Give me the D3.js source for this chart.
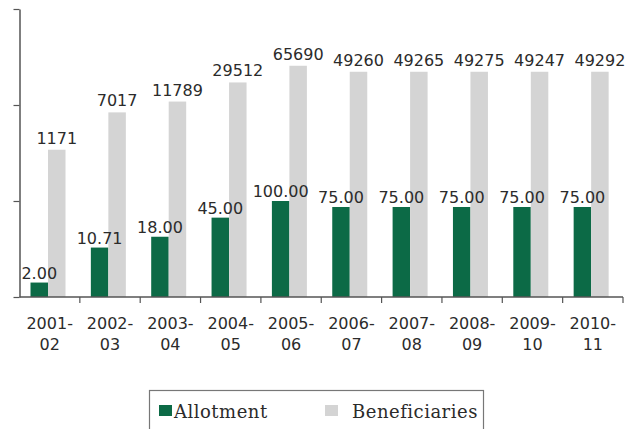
<!DOCTYPE html>
<html>
<head>
<meta charset="utf-8">
<script src="https://cdn.jsdelivr.net/npm/d3@7"></script>
<style>
  html, body { margin: 0; padding: 0; background: #fff; }
  svg { display: block; }
</style>
</head>
<body>
<svg id="chart" width="629" height="429"></svg>
<script>
// Scheme allotment and number of beneficiaries by year
const yearTop = ["2001-", "2002-", "2003-", "2004-", "2005-", "2006-", "2007-", "2008-", "2009-", "2010-"];
const yearBottom = ["02", "03", "04", "05", "06", "07", "08", "09", "10", "11"];
const allotment = [2.00, 10.71, 18.00, 45.00, 100.00, 75.00, 75.00, 75.00, 75.00, 75.00];
const allotmentLabels = ["2.00", "10.71", "18.00", "45.00", "100.00", "75.00", "75.00", "75.00", "75.00", "75.00"];
const beneficiaries = [1171, 7017, 11789, 29512, 65690, 49260, 49265, 49275, 49247, 49292];
const seriesNames = ["Allotment", "Beneficiaries"];
const seriesColors = ["#0c6a46", "#d4d4d4"];
const yTicks = [1, 1e2, 1e4, 1e6];

const svg = d3.select("#chart");
const years = yearTop.map((t, i) => t + yearBottom[i]);

const x = d3.scaleBand().domain(years).range([19.5, 623]).padding(0);
const inner = d3.scaleBand().domain(seriesNames).range([11, 46]).padding(0);
const y = d3.scaleLog().domain([1, 1e6]).range([297, 9]);

const numFont = "'DejaVu Sans', Verdana, sans-serif";

// Bars
const groups = svg.append("g").selectAll("g")
  .data(years)
  .join("g")
  .attr("transform", d => `translate(${x(d)},0)`);

groups.append("rect")
  .attr("x", inner("Allotment"))
  .attr("width", inner.bandwidth())
  .attr("y", (d, i) => y(allotment[i]))
  .attr("height", (d, i) => y(1) - y(allotment[i]))
  .attr("fill", seriesColors[0]);

groups.append("rect")
  .attr("x", inner("Beneficiaries"))
  .attr("width", inner.bandwidth())
  .attr("y", (d, i) => y(beneficiaries[i]))
  .attr("height", (d, i) => y(1) - y(beneficiaries[i]))
  .attr("fill", seriesColors[1]);

// Value labels
groups.append("text")
  .attr("x", inner("Allotment") + inner.bandwidth() / 2)
  .attr("y", (d, i) => y(allotment[i]) - 4)
  .attr("text-anchor", "middle")
  .attr("font-family", numFont)
  .attr("font-size", 16)
  .attr("fill", "#2b2b2b")
  .text((d, i) => allotmentLabels[i]);

groups.append("text")
  .attr("x", inner("Beneficiaries") + inner.bandwidth() / 2)
  .attr("y", (d, i) => y(beneficiaries[i]) - 6)
  .attr("text-anchor", "middle")
  .attr("font-family", numFont)
  .attr("font-size", 16)
  .attr("fill", "#2b2b2b")
  .text((d, i) => beneficiaries[i]);

// Y axis (log scale, unlabeled ticks)
const yAxis = svg.append("g")
  .attr("transform", `translate(${x.range()[0]},0)`)
  .call(d3.axisLeft(y).tickValues(yTicks).tickFormat("").tickSize(6).tickSizeOuter(0));
yAxis.select(".domain").attr("stroke", "#555").attr("stroke-width", 1.5);
yAxis.selectAll(".tick line").attr("stroke", "#555").attr("stroke-width", 1.2);

// X axis baseline with boundary ticks
const xAxis = svg.append("g");
xAxis.append("line")
  .attr("x1", x.range()[0]).attr("x2", x.range()[1])
  .attr("y1", y(1)).attr("y2", y(1))
  .attr("stroke", "#555").attr("stroke-width", 1.5);
xAxis.selectAll("line.bt")
  .data(years)
  .join("line")
  .attr("class", "bt")
  .attr("x1", d => x(d) + x.bandwidth())
  .attr("x2", d => x(d) + x.bandwidth())
  .attr("y1", y(1)).attr("y2", y(1) + 6)
  .attr("stroke", "#555").attr("stroke-width", 1.2);

// Category labels on two lines
const cat = xAxis.selectAll("text.cat")
  .data(years)
  .join("text")
  .attr("class", "cat")
  .attr("x", d => x(d) + x.bandwidth() / 2)
  .attr("text-anchor", "middle")
  .attr("font-family", numFont)
  .attr("font-size", 16)
  .attr("fill", "#2b2b2b");
cat.append("tspan").attr("x", d => x(d) + x.bandwidth() / 2).attr("y", 329).text((d, i) => yearTop[i]);
cat.append("tspan").attr("x", d => x(d) + x.bandwidth() / 2).attr("y", 350).text((d, i) => yearBottom[i]);

// Legend
const legend = svg.append("g");
legend.append("rect")
  .attr("x", 149.5).attr("y", 390.5)
  .attr("width", 334).attr("height", 50)
  .attr("fill", "none").attr("stroke", "#777").attr("stroke-width", 1.2);
const legendX = [159, 325];
const legendTextX = [174, 352];
seriesNames.forEach((name, i) => {
  legend.append("rect")
    .attr("x", legendX[i]).attr("y", 405)
    .attr("width", 13).attr("height", 11)
    .attr("fill", seriesColors[i]);
  legend.append("text")
    .attr("x", legendTextX[i]).attr("y", 418)
    .attr("font-family", "'DejaVu Serif', serif")
    .attr("font-size", 18)
    .attr("letter-spacing", 0.5)
    .attr("fill", "#2b2b2b")
    .text(name);
});
</script>
</body>
</html>
